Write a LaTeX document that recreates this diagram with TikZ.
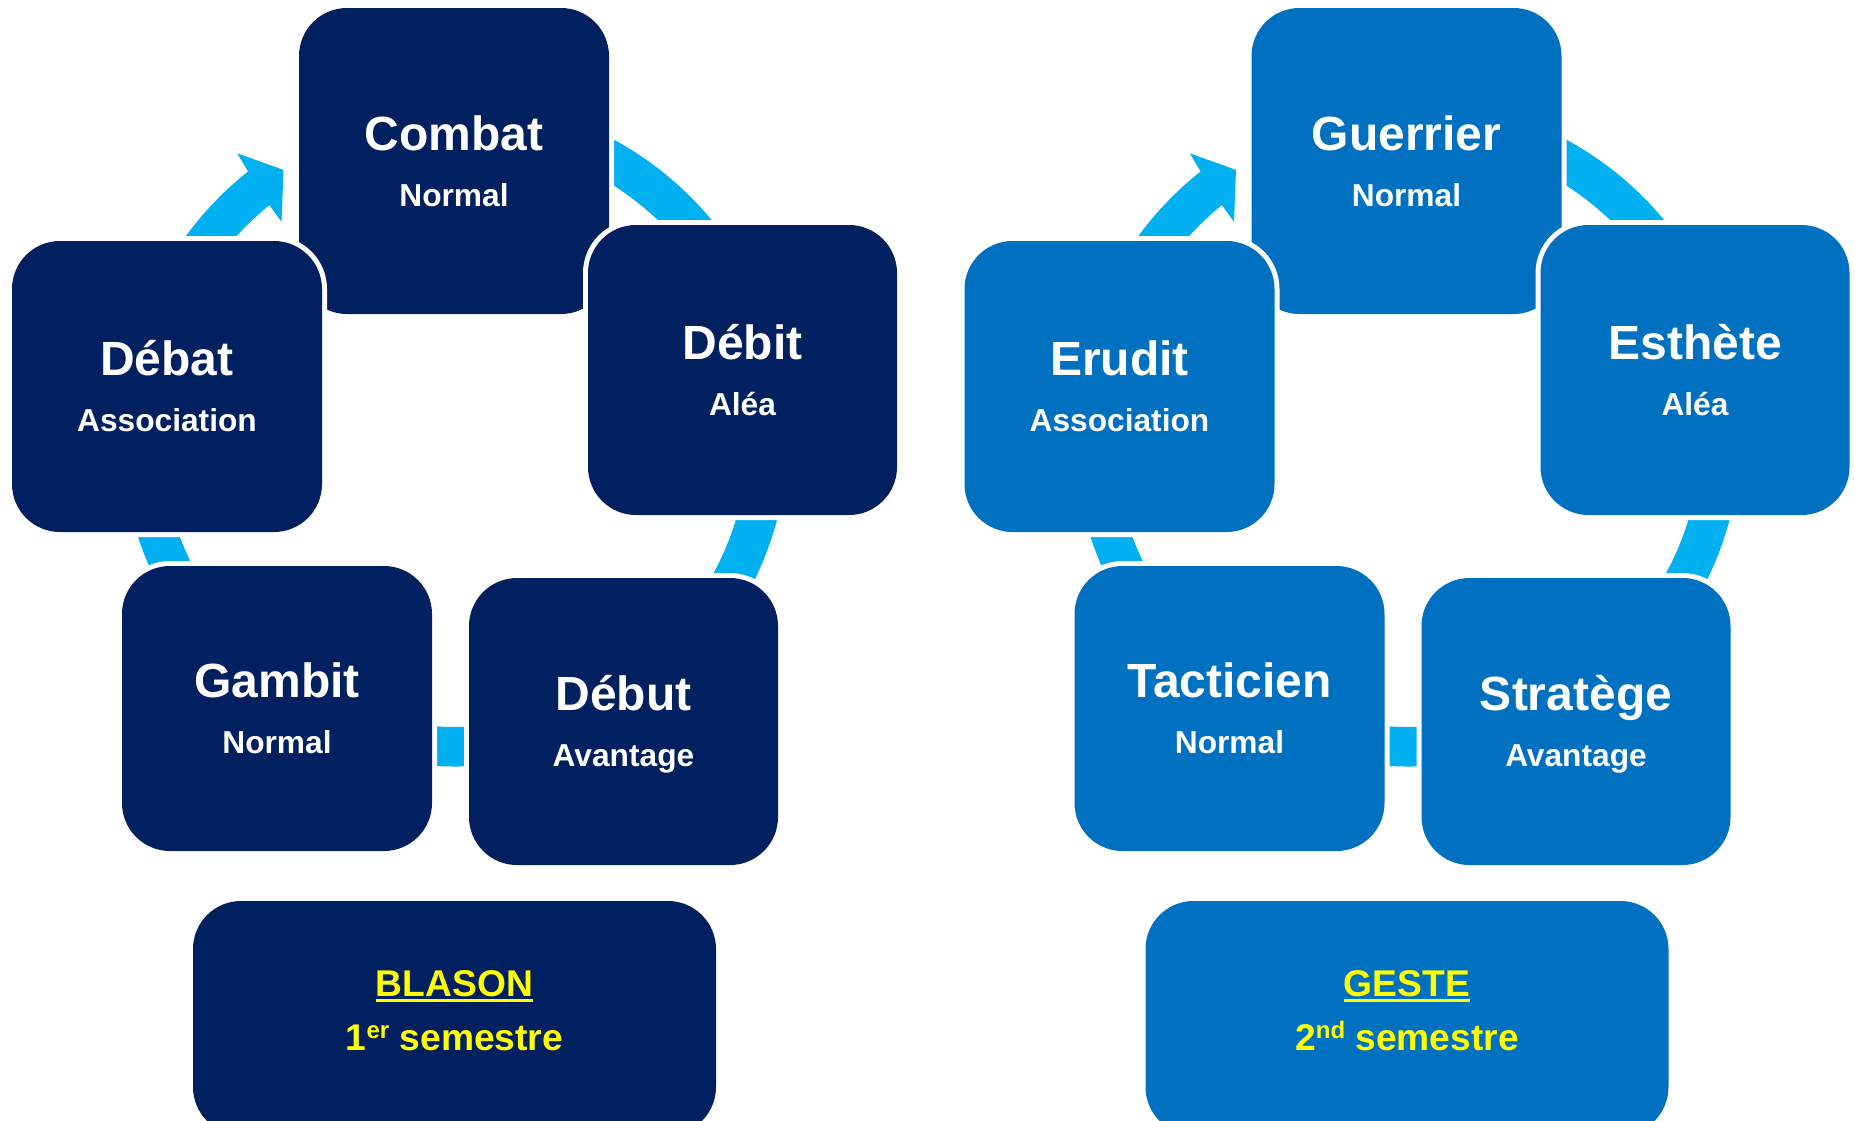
\documentclass[tikz,border=0pt]{standalone}
\usepackage{fontspec}
\setmainfont{Liberation Sans}
\definecolor{navyL}{HTML}{002060}
\definecolor{blueR}{HTML}{0070C0}
\definecolor{ringc}{HTML}{00B0F0}
\definecolor{yel}{HTML}{FFFF00}
\newcommand\myul[1]{\setbox0\hbox{#1}\rlap{\rule[-6pt]{\wd0}{3pt}}\box0}
\newcommand\mysup[1]{\raisebox{11.5pt}{\fontsize{24}{24}\selectfont #1}}
\tikzset{
  cbox/.style={rounded corners=48pt, inner sep=0pt, preaction={draw=white, line width=10pt}},
  ttl/.style={anchor=base, text=white, font=\fontsize{48}{50}\selectfont\bfseries},
  subtxt/.style={anchor=base, text=white, font=\fontsize{31.7}{34}\selectfont\bfseries},
  btl/.style={anchor=base, text=yel, font=\fontsize{37.2}{40}\selectfont\bfseries},
  ringshape/.style={fill=ringc},
}
\begin{document}
\begin{tikzpicture}[x=1pt,y=-1pt]
\useasboundingbox (0,0) rectangle (1855,1120);
\clip (0,0) rectangle (1855,1120);
% rings
\foreach \cx/\nm in {455/ringL, 1407.5/ringR}{
  \begin{scope}[shift={(\cx,433)}]
    \fill[ringshape] (-85:333.5) arc[start angle=-85, end angle=231.65, radius=333.5]
      -- (232.1:354.4) -- (236.9:314.1) -- (230.6:273.3) -- (230.84:294)
      arc[start angle=230.84, end angle=-85, radius=294] -- cycle;
  \end{scope}
}
% left cycle
\node[cbox, fill=navyL, minimum width=310pt, minimum height=306pt] (combat) at (454,161) {};
\node[ttl] (combat-t) at (454,150) {Combat};
\node[subtxt] (combat-s) at (454,206) {Normal};
\node[cbox, fill=navyL, minimum width=309pt, minimum height=290pt] (debit) at (742.5,370) {};
\node[ttl] (debit-t) at (742.5,359) {Débit};
\node[subtxt] (debit-s) at (742.5,415) {Aléa};
\node[cbox, fill=navyL, minimum width=309pt, minimum height=287pt] (debut) at (623.5,721.5) {};
\node[ttl] (debut-t) at (623.5,710.5) {Début};
\node[subtxt] (debut-s) at (623.5,766.5) {Avantage};
\node[cbox, fill=navyL, minimum width=310pt, minimum height=285pt] (gambit) at (277,708.5) {};
\node[ttl] (gambit-t) at (277,697.5) {Gambit};
\node[subtxt] (gambit-s) at (277,753.5) {Normal};
\node[cbox, fill=navyL, minimum width=310pt, minimum height=291pt] (debat) at (167,386.5) {};
\node[ttl] (debat-t) at (167,375.5) {Débat};
\node[subtxt] (debat-s) at (167,431.5) {Association};
\node[cbox, fill=navyL, minimum width=523pt, minimum height=234pt] (blason) at (454.5,1018) {};
\node[btl] (blason-t) at (454.5,996) {\myul{BLASON}};
\node[btl] (blason-s) at (454.5,1050) {1\mysup{er} semestre};
% right cycle
\node[cbox, fill=blueR, minimum width=310pt, minimum height=306pt] (guerrier) at (1406.5,161) {};
\node[ttl] (guerrier-t) at (1406.5,150) {Guerrier};
\node[subtxt] (guerrier-s) at (1406.5,206) {Normal};
\node[cbox, fill=blueR, minimum width=309pt, minimum height=290pt] (esthete) at (1695,370) {};
\node[ttl] (esthete-t) at (1695,359) {Esthète};
\node[subtxt] (esthete-s) at (1695,415) {Aléa};
\node[cbox, fill=blueR, minimum width=309pt, minimum height=287pt] (stratege) at (1576,721.5) {};
\node[ttl] (stratege-t) at (1576,710.5) {Stratège};
\node[subtxt] (stratege-s) at (1576,766.5) {Avantage};
\node[cbox, fill=blueR, minimum width=310pt, minimum height=285pt] (tacticien) at (1229.5,708.5) {};
\node[ttl] (tacticien-t) at (1229.5,697.5) {Tacticien};
\node[subtxt] (tacticien-s) at (1229.5,753.5) {Normal};
\node[cbox, fill=blueR, minimum width=310pt, minimum height=291pt] (erudit) at (1119.5,386.5) {};
\node[ttl] (erudit-t) at (1119.5,375.5) {Erudit};
\node[subtxt] (erudit-s) at (1119.5,431.5) {Association};
\node[cbox, fill=blueR, minimum width=523pt, minimum height=234pt] (geste) at (1407,1018) {};
\node[btl] (geste-t) at (1407,996) {\myul{GESTE}};
\node[btl] (geste-s) at (1407,1050) {2\mysup{nd} semestre};
\end{tikzpicture}
\end{document}
